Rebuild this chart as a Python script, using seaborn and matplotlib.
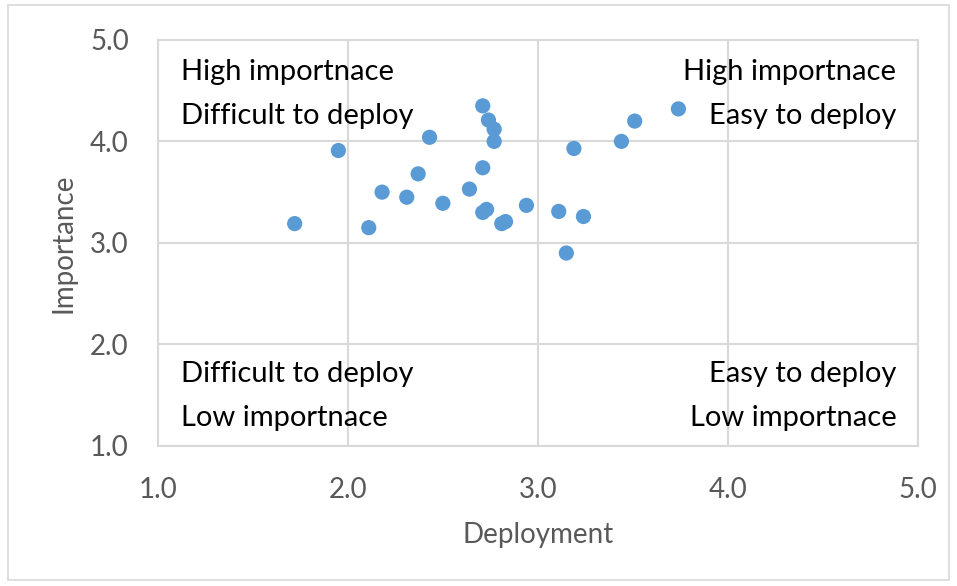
import matplotlib
matplotlib.use('Agg')
import matplotlib.pyplot as plt
import seaborn as sns
import pandas as pd
from matplotlib.patches import Rectangle

# Data
deployment = [1.72, 1.95, 2.11, 2.18, 2.31, 2.37, 2.43, 2.50, 2.64, 2.71, 2.74, 2.77,
              2.77, 2.71, 2.71, 2.73, 2.81, 2.83, 2.94, 3.11, 3.24, 3.15, 3.19, 3.44,
              3.51, 3.74]
importance = [3.19, 3.91, 3.15, 3.50, 3.45, 3.68, 4.04, 3.39, 3.53, 4.35, 4.21, 4.12,
              4.00, 3.74, 3.30, 3.33, 3.19, 3.21, 3.37, 3.31, 3.26, 2.90, 3.93, 4.00,
              4.20, 4.32]
ticks = [1.0, 2.0, 3.0, 4.0, 5.0]
tick_labels = ['1.0', '2.0', '3.0', '4.0', '5.0']

df = pd.DataFrame({'Deployment': deployment, 'Importance': importance})

sns.set_style('white')
plt.rcParams['font.family'] = ['Lato', 'DejaVu Sans']

fig = plt.figure(figsize=(9.57, 5.86), dpi=100)
ax = fig.add_axes([0.165, 0.239, 0.794, 0.693])

# light outer frame like the chart area border
fig.patches.append(Rectangle((0.008, 0.01), 0.984, 0.982, transform=fig.transFigure,
                             fill=False, edgecolor='#d9d9d9', linewidth=1.2))

sns.scatterplot(data=df, x='Deployment', y='Importance', ax=ax, color='#5b9bd5',
                s=120, edgecolor='none', zorder=3)

ax.set_xlim(1, 5)
ax.set_ylim(1, 5)
ax.set_xticks(ticks)
ax.set_yticks(ticks)
ax.set_xticklabels(tick_labels)
ax.set_yticklabels(tick_labels)
ax.tick_params(axis='both', length=0, labelsize=20, labelcolor='#595959')
ax.tick_params(axis='x', pad=22)
ax.tick_params(axis='y', pad=21)
ax.grid(True, color='#d9d9d9', linewidth=1.5)
ax.set_axisbelow(True)
for sp in ax.spines.values():
    sp.set_color('#d9d9d9')
    sp.set_linewidth(1.5)

ax.set_xlabel('Deployment', fontsize=20, color='#595959', labelpad=14)
ax.set_ylabel('Importance', fontsize=20, color='#595959', labelpad=10)

# quadrant labels
qkw = dict(fontsize=21, color='black', transform=ax.transAxes)
ax.text(0.030, 0.921, 'High importnace', ha='left', va='center', **qkw)
ax.text(0.030, 0.813, 'Difficult to deploy', ha='left', va='center', **qkw)
ax.text(0.972, 0.921, 'High importnace', ha='right', va='center', **qkw)
ax.text(0.972, 0.813, 'Easy to deploy', ha='right', va='center', **qkw)
ax.text(0.030, 0.177, 'Difficult to deploy', ha='left', va='center', **qkw)
ax.text(0.030, 0.069, 'Low importnace', ha='left', va='center', **qkw)
ax.text(0.972, 0.177, 'Easy to deploy', ha='right', va='center', **qkw)
ax.text(0.972, 0.069, 'Low importnace', ha='right', va='center', **qkw)

fig.savefig('out.png', dpi=100)
